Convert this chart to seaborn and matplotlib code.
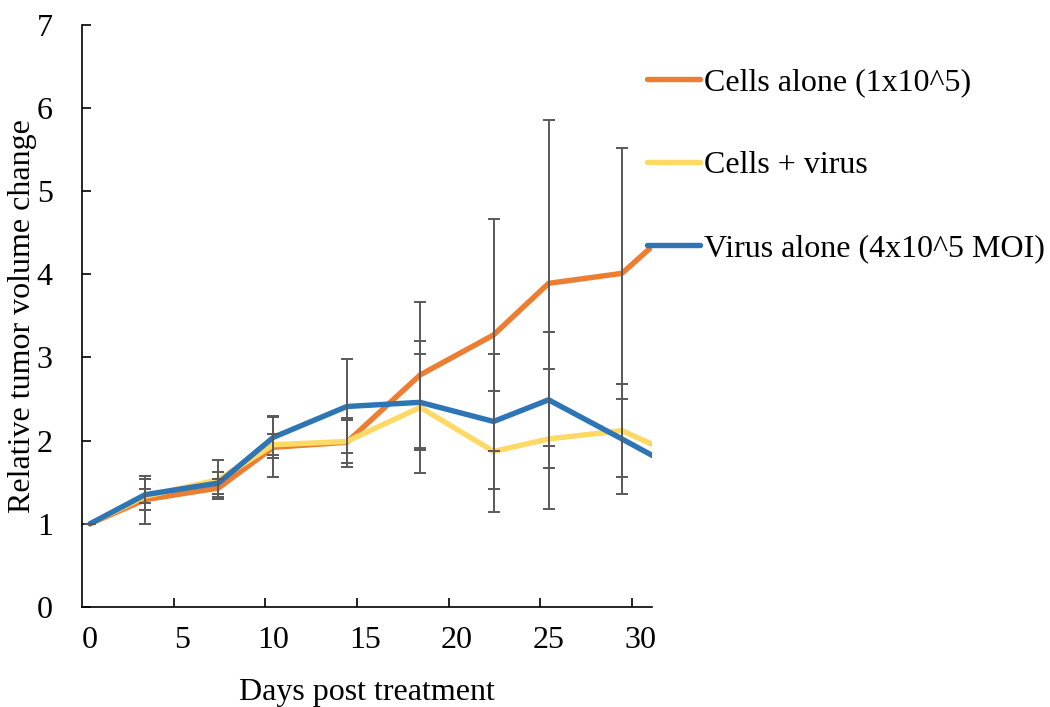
import matplotlib
matplotlib.use("Agg")
import matplotlib.pyplot as plt
import numpy as np
import pandas as pd
import seaborn as sns

# ---- data ----
days = [0, 3, 7, 10, 14, 18, 22, 25, 29, 32]
series_names = ["Cells alone (1x10^5)", "Cells + virus", "Virus alone (4x10^5 MOI)"]

cells_alone = [1.00, 1.29, 1.43, 1.92, 1.98, 2.79, 3.27, 3.89, 4.01, 4.60]
cells_alone_err = [0.0, 0.29, 0.11, 0.36, 0.295, 0.88, 1.39, 1.96, 1.51, 1.50]

cells_virus = [1.00, 1.33, 1.53, 1.95, 1.99, 2.40, 1.87, 2.02, 2.12, 1.82]
cells_virus_err = [0.0, 0.085, 0.235, 0.125, 0.255, 0.795, 0.725, 0.84, 0.555, 0.60]

virus_alone = [1.00, 1.35, 1.49, 2.04, 2.41, 2.46, 2.23, 2.49, 2.02, 1.66]
virus_alone_err = [0.0, 0.19, 0.135, 0.25, 0.565, 0.575, 0.815, 0.815, 0.66, 0.70]

x_tick_labels = [0, 5, 10, 15, 20, 25, 30]
y_tick_labels = [0, 1, 2, 3, 4, 5, 6, 7]

colors = ["#ED7D31", "#FFD966", "#2E75B6"]

values = [cells_alone, cells_virus, virus_alone]
errors = [cells_alone_err, cells_virus_err, virus_alone_err]

df = pd.concat(
    [pd.DataFrame({"day": days, "value": v, "series": n}) for n, v in zip(series_names, values)],
    ignore_index=True,
)

sns.set_theme(style="white")
plt.rcParams["font.family"] = ["Liberation Serif", "DejaVu Serif"]
plt.rcParams["text.color"] = "black"
plt.rcParams["axes.labelcolor"] = "black"

fig = plt.figure(figsize=(10.5, 7.07), dpi=100)
ax = fig.add_axes([82 / 1050, 1 - 607 / 707, 570 / 1050, (607 - 24.6) / 707])

LW = 3.9
sns.lineplot(
    data=df, x="day", y="value", hue="series", hue_order=series_names,
    palette=colors, linewidth=LW, sort=False, estimator=None, ax=ax,
    solid_joinstyle="round", solid_capstyle="round", legend=True,
)

for v, e in zip(values, errors):
    ax.errorbar(days, v, yerr=e, fmt="none", ecolor="#595959",
                elinewidth=1.4, capsize=4, capthick=1.4, zorder=4)

ax.set_xlim(-0.44, 30.64)
ax.set_ylim(0, 7)

ax.set_xticks(x_tick_labels)
ax.set_xticklabels([str(t) for t in x_tick_labels])
ax.set_xticks([t - 0.44 for t in x_tick_labels[1:]], minor=True)
ax.set_yticks(y_tick_labels)
ax.set_yticklabels([str(t) for t in y_tick_labels])

ax.tick_params(axis="x", which="major", length=0, pad=14, labelsize=23, colors="black")
ax.tick_params(axis="x", which="minor", direction="in", length=6.5, width=1.2,
               color="black", bottom=True)
ax.tick_params(axis="y", which="major", direction="in", length=6.5, width=1.2,
               pad=21, labelsize=23, colors="black", left=True)

for s in ["top", "right"]:
    ax.spines[s].set_visible(False)
for s in ["left", "bottom"]:
    ax.spines[s].set_color("black")
    ax.spines[s].set_linewidth(1.2)

ax.set_xlabel("Days post treatment", fontsize=23, color="black", labelpad=16)
ax.set_ylabel("Relative tumor volume change", fontsize=23, color="black", labelpad=0)

handles, labels = ax.get_legend_handles_labels()
leg = ax.legend(handles, labels, loc="upper left", bbox_to_anchor=(647 / 1050, 1 - 68 / 707),
                bbox_transform=fig.transFigure, frameon=False, fontsize=23,
                borderpad=0, borderaxespad=0, handlelength=1.65, handletextpad=0.15,
                labelspacing=1.68)
for h in leg.get_lines():
    h.set_linewidth(LW)
    h.set_solid_capstyle("round")
for t in leg.get_texts():
    t.set_color("black")

fig.savefig("out.png", dpi=100)
